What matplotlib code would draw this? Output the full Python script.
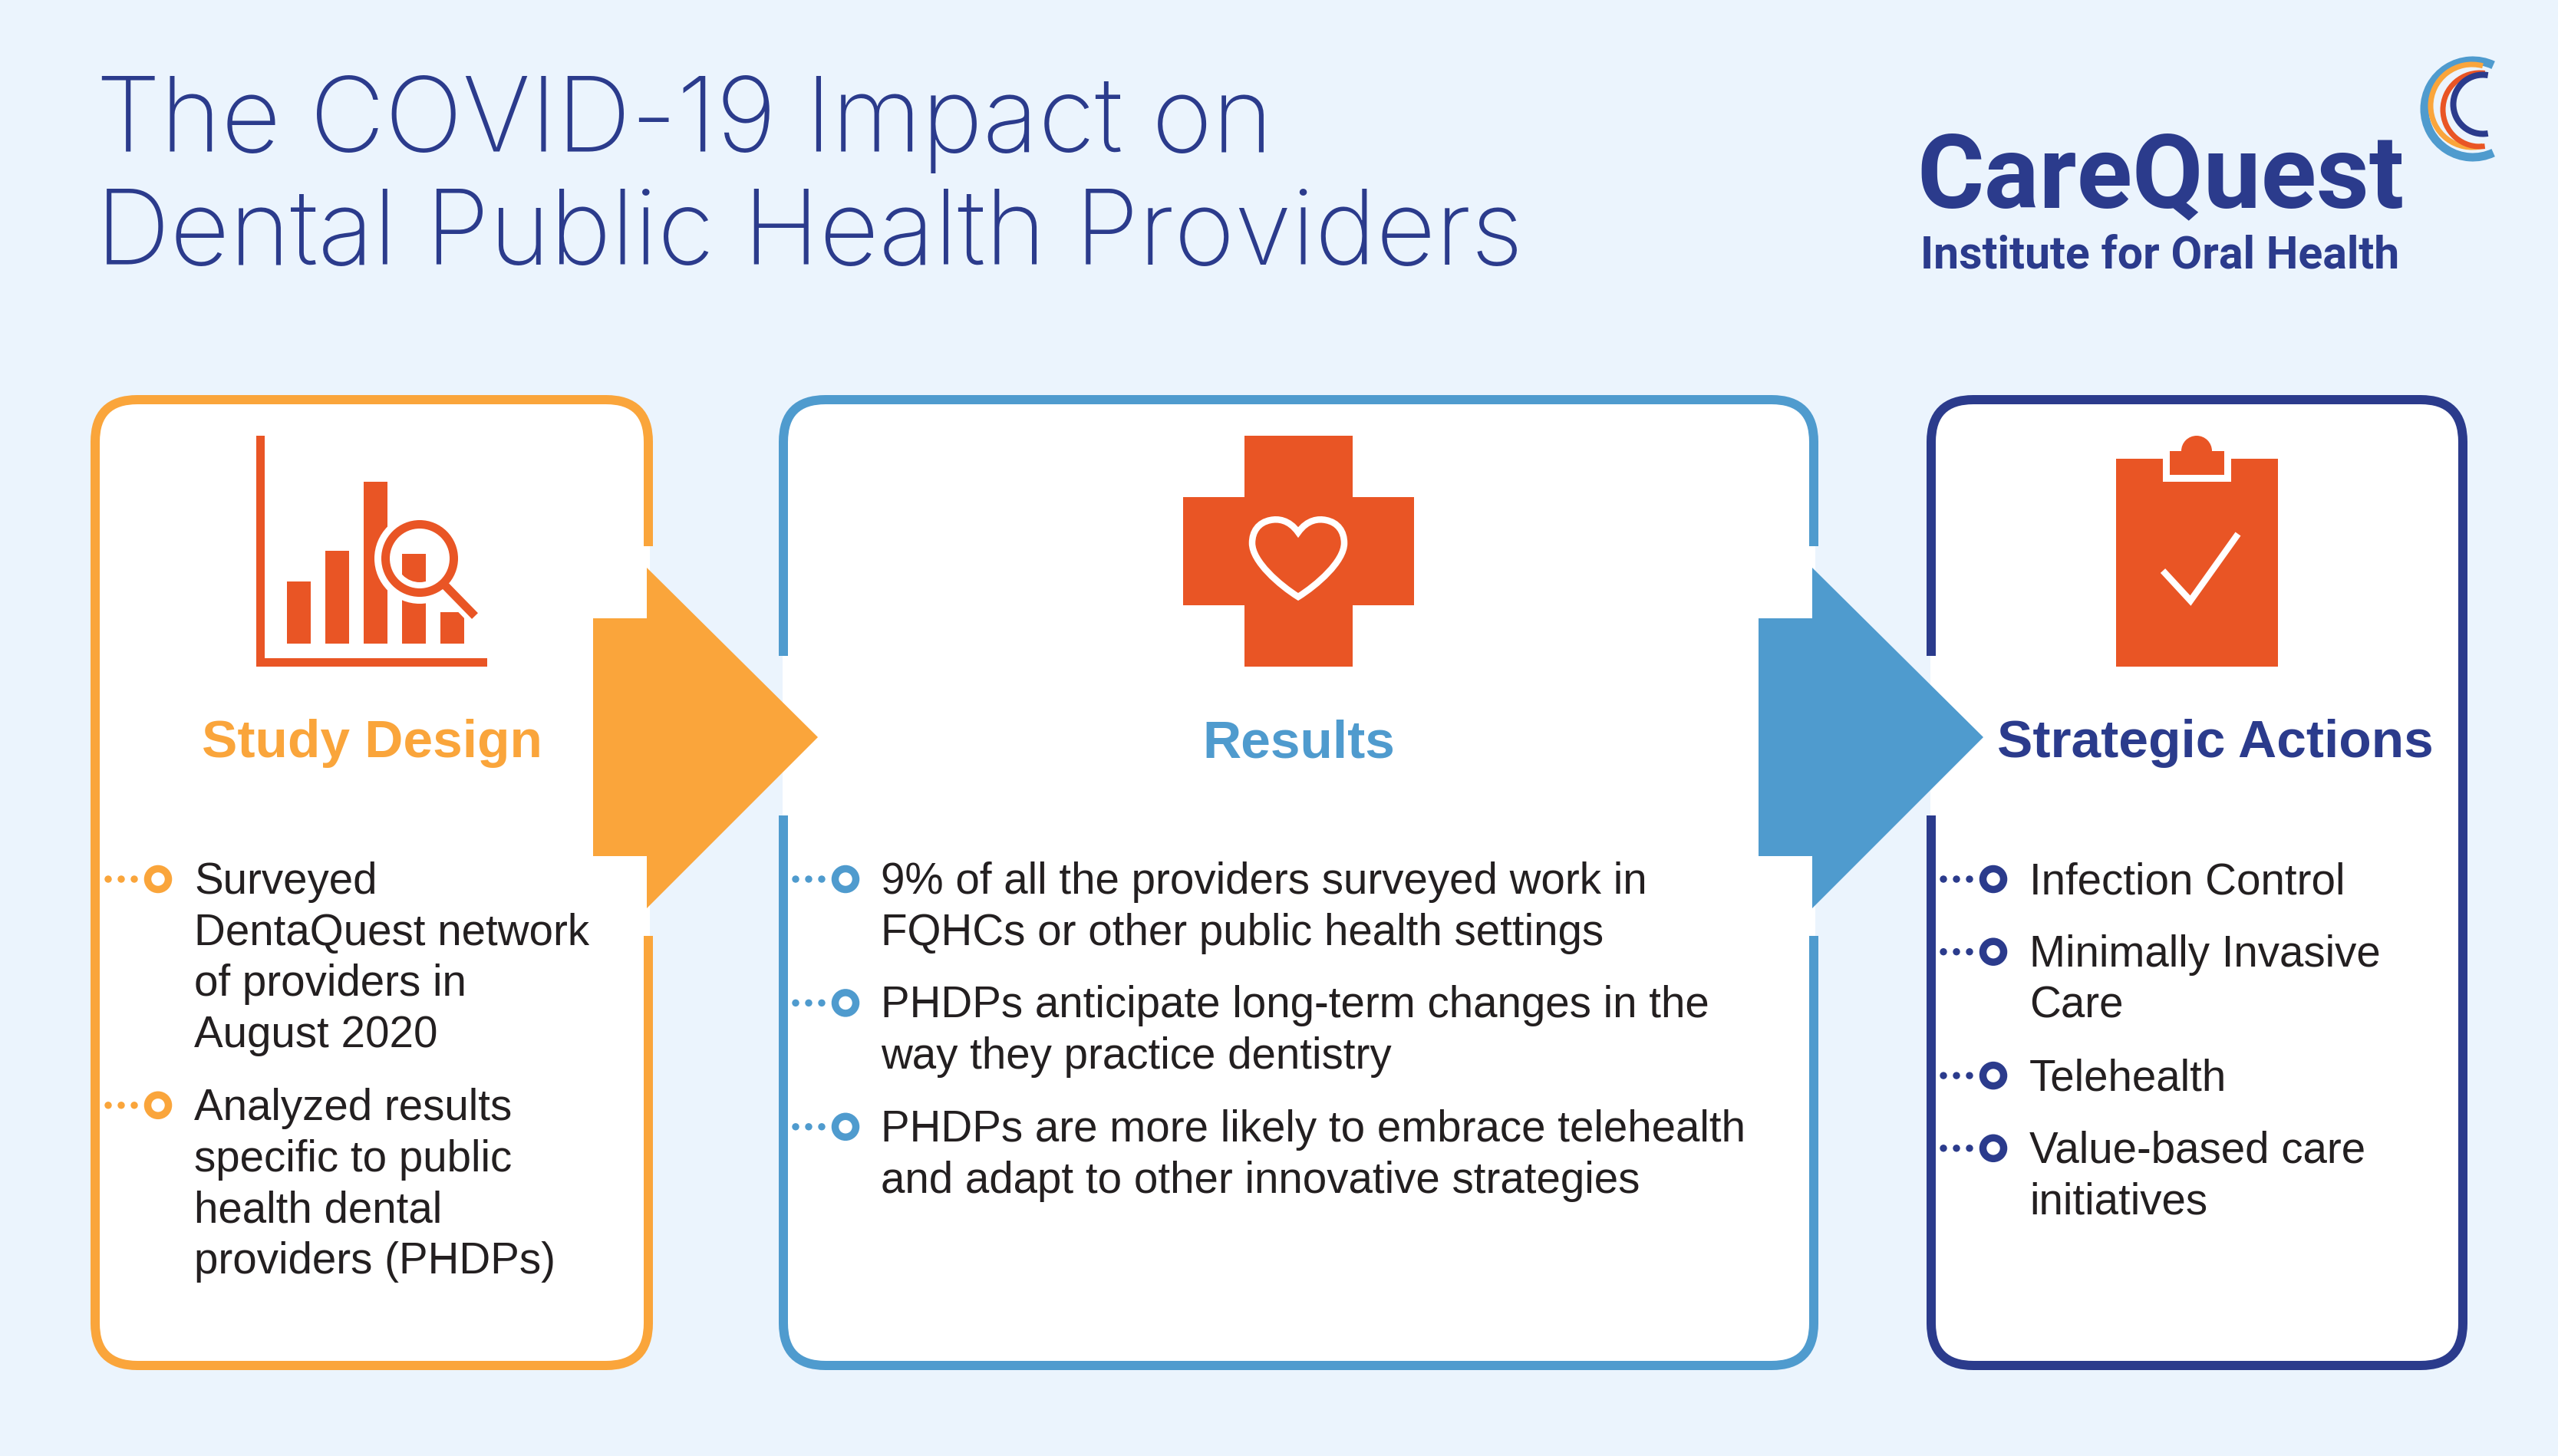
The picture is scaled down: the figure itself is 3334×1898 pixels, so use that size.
# plot.py
import matplotlib
matplotlib.use('Agg')
import matplotlib.pyplot as plt
from matplotlib.patches import Rectangle, Circle, FancyBboxPatch, Polygon, Arc, PathPatch
from matplotlib.path import Path

BG = '#EBF4FD'
ORANGE = '#FAA53B'
BLUE = '#4F9BCE'
NAVY = '#2B3B8C'
RED = '#E95525'
INK = '#231F20'

title_lines = ['The COVID-19 Impact on', 'Dental Public Health Providers']
headers = ['Study Design', 'Results', 'Strategic Actions']
study_items = [['Surveyed', 'DentaQuest network', 'of providers in', 'August 2020'],
               ['Analyzed results', 'specific to public', 'health dental', 'providers (PHDPs)']]
result_items = [['9% of all the providers surveyed work in', 'FQHCs or other public health settings'],
                ['PHDPs anticipate long-term changes in the', 'way they practice dentistry'],
                ['PHDPs are more likely to embrace telehealth', 'and adapt to other innovative strategies']]
action_items = [['Infection Control'],
                ['Minimally Invasive', 'Care'],
                ['Telehealth'],
                ['Value-based care', 'initiatives']]

W, H = 3334, 1898
PX = 0.72  # 1 px in points at dpi 100
BODY_SIZE = 40.7

fig = plt.figure(figsize=(W / 100, H / 100), dpi=100, facecolor=BG)
ax = fig.add_axes([0, 0, 1, 1])
ax.set_xlim(0, W)
ax.set_ylim(H, 0)
ax.axis('off')


def box(x0, x1, color):
    ax.add_patch(FancyBboxPatch((x0, 521), x1 - x0, 1259,
                                boxstyle='round,pad=0,rounding_size=55',
                                fc='white', ec=color, lw=12 * PX, zorder=1))


def rect(x0, y0, x1, y1, color, z=3):
    ax.add_patch(Rectangle((x0, y0), x1 - x0, y1 - y0, fc=color, ec='none', zorder=z))


def arrow(x, color):
    pts = [(x, 806), (x + 70, 806), (x + 70, 740), (x + 293, 961),
           (x + 70, 1184), (x + 70, 1116), (x, 1116)]
    ax.add_patch(Polygon(pts, closed=True, fc=color, ec='none', zorder=4))


def bullet(x, y, color):
    for dx in (-65, -48, -31):
        ax.add_patch(Circle((x + dx, y), 4.7, fc=color, ec='none', zorder=3))
    ax.add_patch(Circle((x, y), 13.5, fc='white', ec=color, lw=9.5 * PX, zorder=3))


def body(items, x, ring_x, color):
    y = 1165
    for lines in items:
        bullet(ring_x, y - 19, color)
        for line in lines:
            ax.text(x, y, line, fontsize=BODY_SIZE, color=INK, family='Liberation Sans',
                    va='baseline', ha='left', zorder=5)
            y += 66.7
        y += 28


# 标题
ax.text(125, 198, title_lines[0], fontsize=97, color=NAVY, family='Inter', weight='light', va='baseline')
ax.text(125, 345, title_lines[1], fontsize=97, color=NAVY, family='Inter', weight='light', va='baseline')

# logo
ax.text(2498, 270, 'CareQuest', fontsize=96.5, color=NAVY, family='Roboto', weight='bold', va='baseline')
ax.text(2503, 349, 'Institute for Oral Health', fontsize=42.5, color=NAVY, family='Roboto', weight='bold', va='baseline')
for cx, cy, r, lw, a0, color in [(3223, 142, 63, 11, 65, BLUE),
                                 (3222, 138, 54, 7, 75, ORANGE),
                                 (3232, 143, 48, 7, 82, RED),
                                 (3236, 136, 38.5, 8, 80, NAVY)]:
    ax.add_patch(Arc((cx, cy), 2 * r, 2 * r, theta1=a0, theta2=360 - a0, color=color, lw=lw * PX, zorder=2))

# 三个框
box(124, 845, ORANGE)
box(1021, 2364, BLUE)
box(2517, 3210, NAVY)
rect(835, 712, 847, 1220, 'white', 2)
rect(1012, 855, 1030, 1063, 'white', 2)
rect(2354, 712, 2366, 1220, 'white', 2)
rect(2508, 855, 2526, 1063, 'white', 2)
# 缺口外侧露出背景色
rect(847, 712, 852, 1220, BG, 2)
rect(2366, 712, 2371, 1220, BG, 2)
rect(1012, 855, 1020, 1063, BG, 2)
rect(2508, 855, 2516, 1063, BG, 2)
arrow(773, ORANGE)
arrow(2292, BLUE)

# 小标题
header_x = [485, 1693, 2887]
header_colors = [ORANGE, BLUE, NAVY]
for label, hx, hc in zip(headers, header_x, header_colors):
    ax.text(hx, 987, label, fontsize=50, color=hc, family='Liberation Sans', weight='bold', ha='center', va='baseline', zorder=5)

body(study_items, 253, 206, ORANGE)
body(result_items, 1148, 1102, BLUE)
body(action_items, 2645, 2598, NAVY)

# 图标 1：柱状图 + 放大镜
rect(334, 568, 345, 869, RED)
rect(334, 858, 635, 869, RED)
bar_left = [374, 424, 474, 524, 574]
bar_top = [758, 718, 628, 722, 798]
for bx, bt in zip(bar_left, bar_top):
    rect(bx, bt, bx + 31, 839, RED)
ax.plot([582, 619], [765, 803], color='white', lw=24 * PX, solid_capstyle='butt', zorder=3.2)
ax.add_patch(Circle((547, 728), 59, fc='white', ec='none', zorder=3.2))
ax.plot([576, 619], [759, 803], color=RED, lw=11 * PX, solid_capstyle='butt', zorder=3.4)
ax.add_patch(Circle((547, 728), 44.5, fc='white', ec=RED, lw=11 * PX, zorder=3.4))
inner = Rectangle((524, 722), 31, 60, fc=RED, ec='none', zorder=3.6)
ax.add_patch(inner)
inner.set_clip_path(Circle((547, 728), 31, transform=ax.transData))

# 图标 2：十字 + 心形
rect(1622, 568, 1763, 869, RED)
rect(1542, 648, 1843, 789, RED)
heart = Path([(1692, 694), (1680, 677), (1665, 676), (1656, 678),
              (1640, 681), (1632, 693), (1632, 708),
              (1632, 732), (1668, 763), (1692, 778),
              (1716, 763), (1752, 732), (1752, 708),
              (1752, 693), (1744, 681), (1728, 678),
              (1719, 676), (1704, 677), (1692, 694), (1692, 694)],
             [Path.MOVETO] + [Path.CURVE4] * 18 + [Path.CLOSEPOLY])
ax.add_patch(PathPatch(heart, fc='none', ec='white', lw=8.5 * PX, joinstyle='miter', zorder=4))

# 图标 3：写字板 + 对勾
rect(2758, 598, 2969, 869, RED)
rect(2819, 590, 2908, 628, 'white', 3.2)
rect(2828, 588, 2899, 619, RED, 3.4)
ax.add_patch(Circle((2863, 588), 20, fc=RED, ec='none', zorder=3.4))
ax.plot([2819, 2855, 2917], [744, 783, 696], color='white', lw=8.5 * PX,
        solid_joinstyle='miter', solid_capstyle='butt', zorder=4)

fig.savefig('out.png', dpi=100, facecolor=BG)
plt.close(fig)
